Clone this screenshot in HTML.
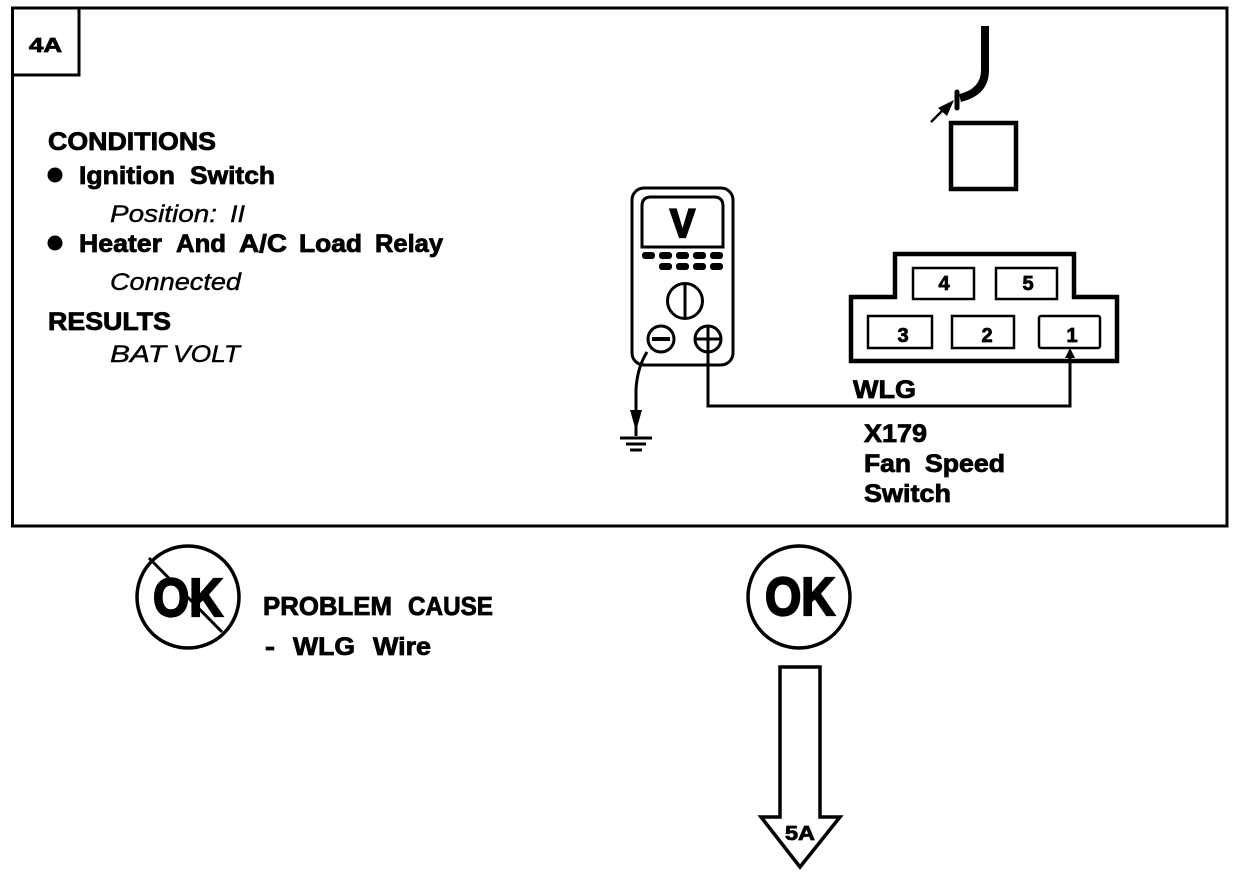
<!DOCTYPE html>
<html>
<head>
<meta charset="utf-8">
<style>
html,body{margin:0;padding:0;background:#fff}
svg{display:block}
text{font-family:"Liberation Sans",Arial,sans-serif;fill:#000}
.b{font-weight:bold;stroke:#000;stroke-width:.8}
.i{font-style:italic;stroke:#000;stroke-width:.4}
.k{font-weight:bold;stroke:#000;stroke-width:2.2}
</style>
</head>
<body>
<svg width="1248" height="876" viewBox="0 0 1248 876" xmlns="http://www.w3.org/2000/svg">
<rect width="1248" height="876" fill="#fff"/>
<g fill="none" stroke="#000">
  <!-- frame -->
  <rect x="12.5" y="8" width="1214.5" height="518" stroke-width="3"/>
  <path d="M12 75H79V8" stroke-width="3"/>

  <!-- cable and square -->
  <path d="M985 26V70Q985 92 960 98" stroke-width="8"/>
  <path d="M957 92V108" stroke-width="5" stroke-linecap="round"/>
  <path d="M931 122L946 107" stroke-width="2.5"/>
  <rect x="951" y="123" width="65" height="66" stroke-width="4.5"/>

  <!-- meter -->
  <rect x="632" y="188" width="101" height="177" rx="12" stroke-width="3"/>
  <path d="M642 247V206Q642 197 651 197H714Q723 197 723 206V247Z" stroke-width="3"/>
  <circle cx="685" cy="301" r="17.5" stroke-width="3"/>
  <path d="M685 284V319" stroke-width="3"/>
  <circle cx="661" cy="339" r="13" stroke-width="3"/>
  <path d="M652 339H670" stroke-width="4"/>
  <circle cx="708" cy="339" r="13" stroke-width="3"/>
  <path d="M695 339H721M708 326V352" stroke-width="3"/>

  <!-- wires -->
  <path d="M708 352V406H1070V352" stroke-width="3"/>
  <path d="M647 352Q637 368 636 390V436" stroke-width="3"/>
  <path d="M620 438H652" stroke-width="3"/>
  <path d="M626 444H646" stroke-width="3"/>
  <path d="M630 450H642" stroke-width="3"/>

  <!-- connector -->
  <path d="M851 361V297H895V254H1074V297H1117V361Z" stroke-width="4.5"/>
  <rect x="913" y="268" width="61" height="31" stroke-width="2.5"/>
  <rect x="996" y="268" width="61" height="31" stroke-width="2.5"/>
  <rect x="868" y="316" width="64" height="32" stroke-width="2.5"/>
  <rect x="952" y="316" width="62" height="32" stroke-width="2.5"/>
  <rect x="1039" y="316" width="61" height="32" rx="2" stroke-width="2.5"/>

  <!-- OK circles -->
  <circle cx="188" cy="597" r="51" stroke-width="3.5"/>
  <path d="M149 558L222 632" stroke-width="3"/>
  <circle cx="799" cy="597" r="51" stroke-width="3.5"/>

  <!-- block arrow -->
  <path d="M780 667H820V817H840L800 867L761 817H780Z" stroke-width="3.5"/>
</g>

<g fill="#000">
  <path d="M954 100L947 116L938 108Z"/>
  <path d="M636 431L630 410H642Z"/>
  <path d="M1070 348L1065 358H1075Z"/>
  <circle cx="55" cy="175" r="7.5"/>
  <circle cx="55" cy="243" r="7.5"/>
  <rect x="642" y="252" width="13" height="7" rx="3"/>
  <rect x="659" y="252" width="13" height="7" rx="3"/>
  <rect x="676" y="252" width="13" height="7" rx="3"/>
  <rect x="693" y="252" width="13" height="7" rx="3"/>
  <rect x="710" y="252" width="13" height="7" rx="3"/>
  <rect x="659" y="263" width="13" height="7" rx="3"/>
  <rect x="676" y="263" width="13" height="7" rx="3"/>
  <rect x="693" y="263" width="13" height="7" rx="3"/>
  <rect x="710" y="263" width="13" height="7" rx="3"/>
</g>

<!-- labels -->
<text class="b" x="29" y="52" font-size="20" textLength="33" lengthAdjust="spacingAndGlyphs">4A</text>
<text class="b" x="48" y="150" font-size="25" textLength="168" lengthAdjust="spacingAndGlyphs">CONDITIONS</text>
<text class="b" x="79" y="184" font-size="25" textLength="96" lengthAdjust="spacingAndGlyphs">Ignition</text>
<text class="b" x="190" y="184" font-size="25" textLength="85" lengthAdjust="spacingAndGlyphs">Switch</text>
<text class="i" x="110" y="222" font-size="24" textLength="107" lengthAdjust="spacingAndGlyphs">Position:</text>
<text class="i" x="230" y="222" font-size="24" textLength="15" lengthAdjust="spacingAndGlyphs">II</text>
<text class="b" x="79" y="252" font-size="25" textLength="83" lengthAdjust="spacingAndGlyphs">Heater</text>
<text class="b" x="176" y="252" font-size="25" textLength="50" lengthAdjust="spacingAndGlyphs">And</text>
<text class="b" x="239" y="252" font-size="25" textLength="48" lengthAdjust="spacingAndGlyphs">A/C</text>
<text class="b" x="299" y="252" font-size="25" textLength="63" lengthAdjust="spacingAndGlyphs">Load</text>
<text class="b" x="375" y="252" font-size="25" textLength="68" lengthAdjust="spacingAndGlyphs">Relay</text>
<text class="i" x="110" y="290" font-size="24" textLength="131" lengthAdjust="spacingAndGlyphs">Connected</text>
<text class="b" x="48" y="330" font-size="25" textLength="123" lengthAdjust="spacingAndGlyphs">RESULTS</text>
<text class="i" x="110" y="362" font-size="24" textLength="56" lengthAdjust="spacingAndGlyphs">BAT</text>
<text class="i" x="173" y="362" font-size="24" textLength="67" lengthAdjust="spacingAndGlyphs">VOLT</text>

<text class="k" x="670" y="237" font-size="40" textLength="25" lengthAdjust="spacingAndGlyphs">V</text>
<text class="b" x="944" y="290" font-size="20" text-anchor="middle">4</text>
<text class="b" x="1028" y="290" font-size="20" text-anchor="middle">5</text>
<text class="b" x="903" y="342" font-size="20" text-anchor="middle">3</text>
<text class="b" x="987" y="342" font-size="20" text-anchor="middle">2</text>
<text class="b" x="1072" y="342" font-size="20" text-anchor="middle">1</text>

<text class="b" x="853" y="398" font-size="25" textLength="63" lengthAdjust="spacingAndGlyphs">WLG</text>
<text class="b" x="864" y="442" font-size="25" textLength="63" lengthAdjust="spacingAndGlyphs">X179</text>
<text class="b" x="864" y="472" font-size="25" textLength="47" lengthAdjust="spacingAndGlyphs">Fan</text>
<text class="b" x="925" y="472" font-size="25" textLength="80" lengthAdjust="spacingAndGlyphs">Speed</text>
<text class="b" x="864" y="502" font-size="25" textLength="87" lengthAdjust="spacingAndGlyphs">Switch</text>

<text class="k" x="153" y="616" font-size="54" textLength="70" lengthAdjust="spacingAndGlyphs">OK</text>
<text class="b" x="263" y="615" font-size="26" textLength="129" lengthAdjust="spacingAndGlyphs">PROBLEM</text>
<text class="b" x="408" y="615" font-size="26" textLength="85" lengthAdjust="spacingAndGlyphs">CAUSE</text>
<text class="b" x="265" y="655" font-size="25" textLength="10" lengthAdjust="spacingAndGlyphs">-</text>
<text class="b" x="293" y="655" font-size="25" textLength="62" lengthAdjust="spacingAndGlyphs">WLG</text>
<text class="b" x="373" y="655" font-size="25" textLength="58" lengthAdjust="spacingAndGlyphs">Wire</text>
<text class="k" x="765" y="615" font-size="54" textLength="70" lengthAdjust="spacingAndGlyphs">OK</text>
<text class="b" x="785" y="840" font-size="20" textLength="30" lengthAdjust="spacingAndGlyphs">5A</text>
</svg>
</body>
</html>
